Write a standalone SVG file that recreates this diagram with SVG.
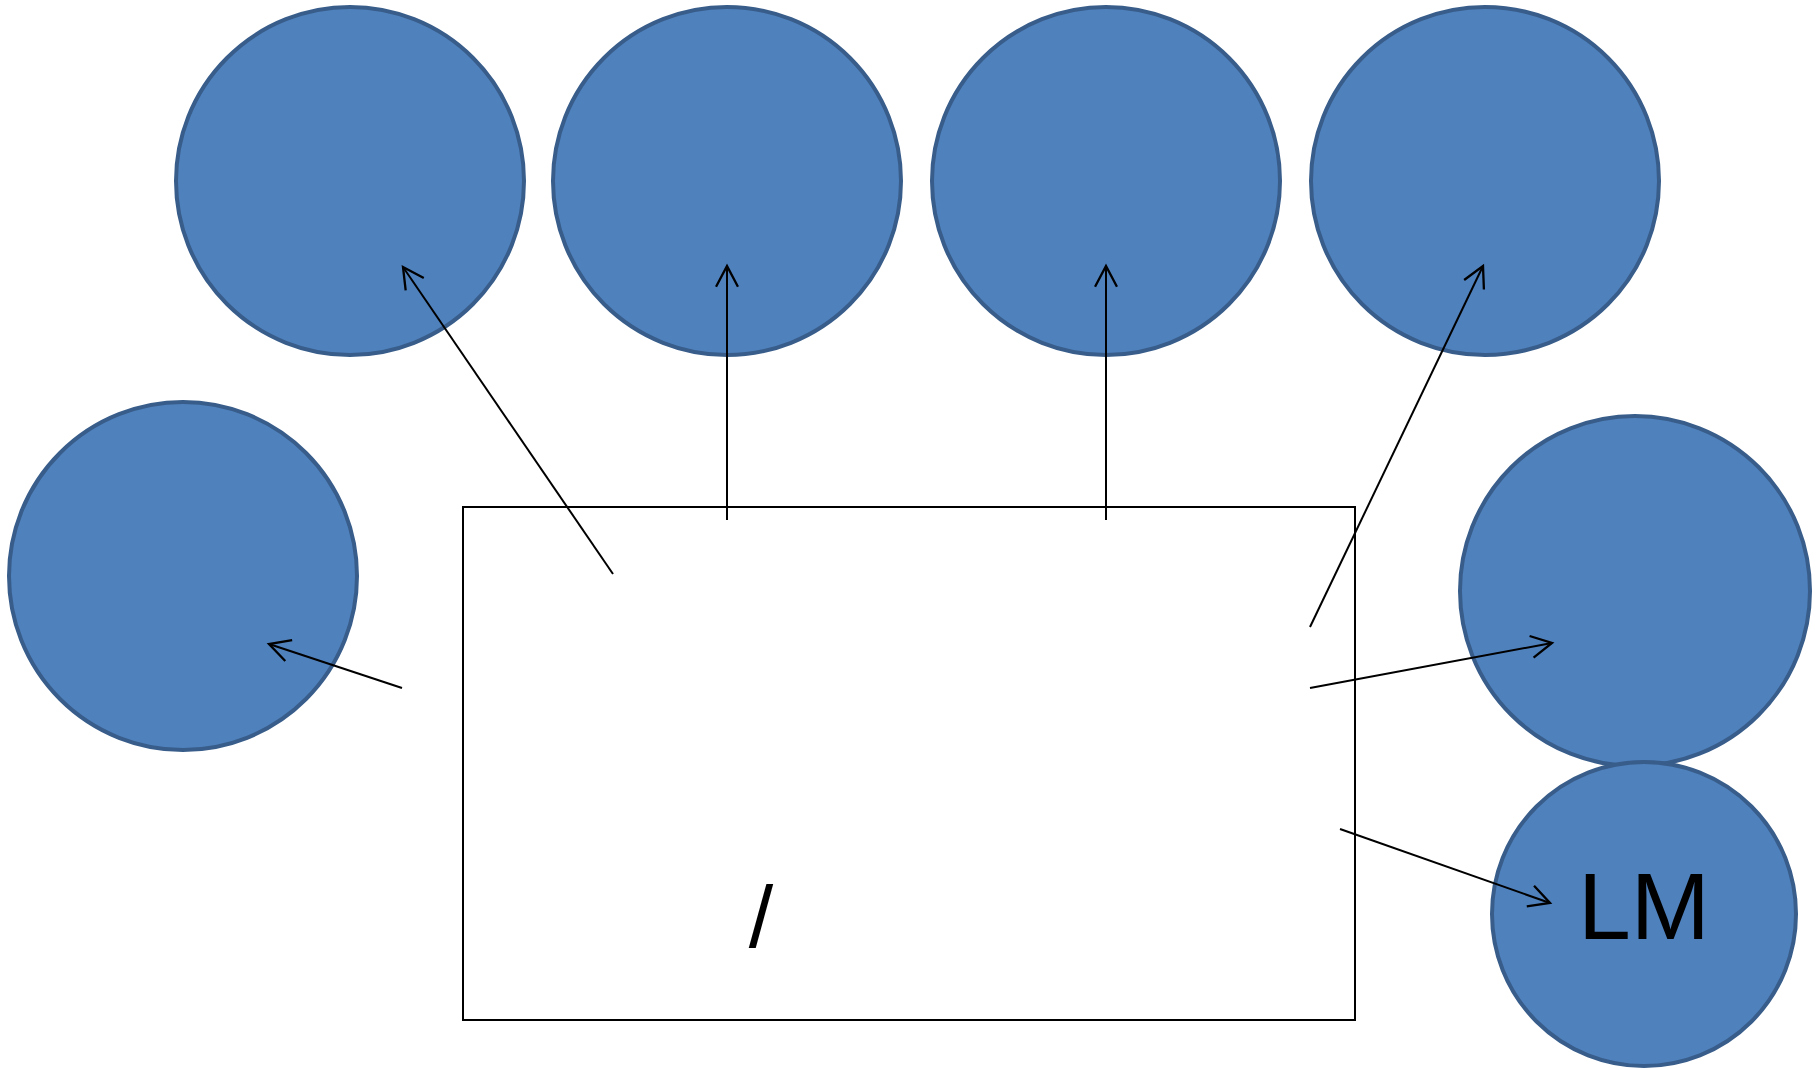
<svg xmlns="http://www.w3.org/2000/svg" width="1816" height="1070" viewBox="0 0 1816 1070">
<style>
.node{fill:#4F81BD;stroke:#385D8A;stroke-width:4}
.box{fill:none;stroke:#000;stroke-width:2}
.conn{stroke:#000;stroke-width:2;fill:none;marker-end:url(#arr)}
.lbl{font-family:"Liberation Sans",Arial,sans-serif;fill:#000}
</style>
<defs>
<marker id="arr" markerUnits="userSpaceOnUse" markerWidth="30" markerHeight="30" viewBox="-22 -12 26 24" refX="0" refY="0" orient="auto">
<path d="M-18,-9.5 L0,0 L-18,9.5" fill="none" stroke="#000" stroke-width="2"/>
</marker>
</defs>
<rect width="1816" height="1070" fill="#fff"/>
<g id="n1"><circle class="node" cx="350" cy="181" r="174"/></g>
<g id="n2"><circle class="node" cx="727" cy="181" r="174"/></g>
<g id="n3"><circle class="node" cx="1106" cy="181" r="174"/></g>
<g id="n4"><circle class="node" cx="1485" cy="181" r="174"/></g>
<g id="n5"><circle class="node" cx="183" cy="576" r="174"/></g>
<g id="n6"><circle class="node" cx="1635" cy="591" r="175"/></g>
<g id="n7"><circle class="node" cx="1644" cy="914" r="152"/><text class="lbl" x="1644" y="939" font-size="95" text-anchor="middle">LM</text></g>
<g id="center"><rect class="box" x="463" y="507" width="892" height="513"/><text class="lbl" x="761" y="947" font-size="88" text-anchor="middle">/</text></g>
<g id="connectors">
<line class="conn" x1="613" y1="574" x2="403" y2="267"/>
<line class="conn" x1="727" y1="520" x2="727" y2="266"/>
<line class="conn" x1="1106" y1="520" x2="1106" y2="266"/>
<line class="conn" x1="1310" y1="627" x2="1483" y2="266"/>
<line class="conn" x1="402" y1="688" x2="269" y2="644"/>
<line class="conn" x1="1310" y1="688" x2="1552" y2="643"/>
<line class="conn" x1="1340" y1="829" x2="1550" y2="903"/>
</g>
</svg>
